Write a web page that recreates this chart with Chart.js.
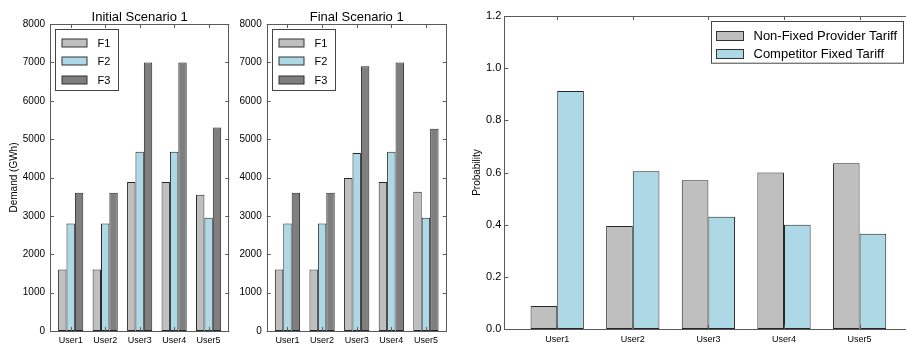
<!DOCTYPE html>
<html>
<head>
<meta charset="utf-8">
<script src="https://cdn.jsdelivr.net/npm/chart.js@4.4.1/dist/chart.umd.min.js"></script>
<style>
  html, body { margin: 0; padding: 0; background: #fff; overflow: hidden; }
  #wrap { position: relative; width: 906px; height: 344px; overflow: hidden; }
  .panel { position: absolute; top: 0; }
</style>
</head>
<body>
<div id="wrap">
  <div class="panel" style="left:0px"><canvas id="initialChart" width="232" height="344"></canvas></div>
  <div class="panel" style="left:232px"><canvas id="finalChart" width="218" height="344"></canvas></div>
  <div class="panel" style="left:460px"><canvas id="probChart" width="460" height="344"></canvas></div>
</div>
<script>
// Data
const users = ['User1', 'User2', 'User3', 'User4', 'User5'];
const bands = ['F1', 'F2', 'F3'];

const initialF1 = [1600, 1600, 3880, 3880, 3550];
const initialF2 = [2800, 2800, 4670, 4670, 2950];
const initialF3 = [3600, 3600, 7000, 7000, 5300];

const finalF1 = [1600, 1600, 3990, 3880, 3630];
const finalF2 = [2800, 2800, 4640, 4670, 2950];
const finalF3 = [3600, 3600, 6900, 7000, 5270];

const tariffLabels = ['Non-Fixed Provider Tariff', 'Competitor Fixed Tariff'];
const nonFixedProb = [0.088, 0.395, 0.57, 0.60, 0.635];
const competitorProb = [0.912, 0.605, 0.43, 0.40, 0.365];

const demandTicks = [0, 1000, 2000, 3000, 4000, 5000, 6000, 7000, 8000];

const FONT = 'Liberation Sans, Arial, Helvetica, sans-serif';
const barColors = ['#bfbfbf', '#add8e6', '#7f7f7f'];
const edge = '#262626';

// put each value at position 1..5 on a linear x axis
function toPoints(values) {
    return values.map((v, i) => ({ x: i + 1, y: v }));
}

// matlab-like box with inward ticks, plus a title centred on the plot
const boxAxes = {
    id: 'boxAxes',
    afterDatasetsDraw(chart, args, o) {
        const { ctx, chartArea: a, scales } = chart;
        const x = scales.x, y = scales.y;
        ctx.save();
        ctx.strokeStyle = '#5a5a5a';
        ctx.lineWidth = 1;
        ctx.beginPath();
        y.ticks.forEach(t => {
            const py = Math.round(y.getPixelForValue(t.value)) + 0.5;
            ctx.moveTo(a.left, py); ctx.lineTo(a.left + 4, py);
            ctx.moveTo(a.right, py); ctx.lineTo(a.right - 4, py);
        });
        x.ticks.forEach(t => {
            const px = Math.round(x.getPixelForValue(t.value)) + 0.5;
            ctx.moveTo(px, a.bottom); ctx.lineTo(px, a.bottom - 4);
            ctx.moveTo(px, a.top); ctx.lineTo(px, a.top + 4);
        });
        ctx.stroke();
        ctx.strokeRect(Math.round(a.left) + 0.5, Math.round(a.top) + 0.5,
            Math.round(a.right - a.left) - 1, Math.round(a.bottom - a.top));
        if (o && o.title) {
            ctx.fillStyle = '#000';
            ctx.font = '13px ' + FONT;
            ctx.textAlign = 'center';
            ctx.textBaseline = 'alphabetic';
            ctx.fillText(o.title, (a.left + a.right) / 2, a.top - 3);
        }
        ctx.restore();
    }
};

// legend drawn inside the plot with a frame
const boxLegend = {
    id: 'boxLegend',
    afterDraw(chart, args, o) {
        const { ctx, chartArea: a } = chart;
        const left = Math.round(a.left + o.dx) + 0.5;
        const top = Math.round(a.top + o.dy) + 0.5;
        ctx.save();
        ctx.fillStyle = '#fff';
        ctx.fillRect(left, top, o.w, o.h);
        ctx.strokeStyle = '#444';
        ctx.lineWidth = 1;
        ctx.strokeRect(left, top, o.w, o.h);
        ctx.font = o.fontSize + 'px ' + FONT;
        ctx.textBaseline = 'middle';
        chart.data.datasets.forEach((ds, i) => {
            const cy = Math.round(top + o.first + i * o.row);
            ctx.fillStyle = ds.backgroundColor;
            ctx.fillRect(left + o.sx, cy - o.sh / 2, o.sw, o.sh);
            ctx.strokeStyle = '#333';
            ctx.strokeRect(left + o.sx, cy - o.sh / 2, o.sw, o.sh);
            ctx.fillStyle = '#000';
            ctx.fillText(ds.label, left + o.tx, cy + 0.5);
        });
        ctx.restore();
    }
};

function userAxis(min, max, height, pad) {
    return {
        type: 'linear',
        min: min,
        max: max,
        offset: false,
        grid: { display: false, drawTicks: false, offset: false },
        border: { display: false },
        afterBuildTicks: s => { s.ticks = users.map((u, i) => ({ value: i + 1 })); },
        afterFit: s => { s.height = height; },
        ticks: {
            padding: pad,
            color: '#000',
            font: { family: FONT, size: 9 },
            maxRotation: 0,
            autoSkip: false,
            callback: v => users[v - 1]
        }
    };
}

function demandChart(id, title, series, yWidth, padRight) {
    const ctx = document.getElementById(id);
    return new Chart(ctx, {
        type: 'bar',
        data: {
            datasets: series.map((vals, i) => ({
                label: bands[i],
                data: toPoints(vals),
                backgroundColor: barColors[i],
                borderColor: edge,
                borderWidth: 1,
                borderSkipped: false,
                categoryPercentage: 0.73,
                barPercentage: 1
            }))
        },
        options: {
            responsive: false,
            animation: false,
            layout: { padding: { top: 24, right: padRight, bottom: 0, left: 0 } },
            plugins: {
                legend: { display: false },
                tooltip: { enabled: false },
                boxAxes: { title: title },
                boxLegend: { dx: 5, dy: 5, w: 63, h: 61, sx: 6.5, sw: 25, sh: 8, first: 13.4, row: 18.3, tx: 42, fontSize: 11 }
            },
            scales: {
                x: userAxis(0.4, 5.6, 13, 4),
                y: {
                    min: 0,
                    max: 8000,
                    grid: { display: false, drawTicks: false },
                    border: { display: false },
                    afterBuildTicks: s => { s.ticks = demandTicks.map(v => ({ value: v })); },
                    afterFit: s => { s.width = yWidth; },
                    title: {
                        display: id === 'initialChart',
                        text: 'Demand (GWh)',
                        color: '#000',
                        font: { family: FONT, size: 10 },
                        padding: { top: 8, bottom: 0 }
                    },
                    ticks: {
                        padding: 5,
                        color: '#000',
                        font: { family: FONT, size: 10 },
                        callback: v => String(v)
                    }
                }
            }
        },
        plugins: [boxAxes, boxLegend]
    });
}

demandChart('initialChart', 'Initial Scenario 1', [initialF1, initialF2, initialF3], 50, 2.7);
demandChart('finalChart', 'Final Scenario 1', [finalF1, finalF2, finalF3], 34.7, 3.3);

// Probability chart
new Chart(document.getElementById('probChart'), {
    type: 'bar',
    data: {
        datasets: [nonFixedProb, competitorProb].map((vals, i) => ({
            label: tariffLabels[i],
            data: toPoints(vals),
            backgroundColor: barColors[i],
            borderColor: edge,
            borderWidth: 1,
            borderSkipped: false,
            categoryPercentage: 0.705,
            barPercentage: 1
        }))
    },
    options: {
        responsive: false,
        animation: false,
        layout: { padding: { top: 16, right: 7.5, bottom: 0, left: 0 } },
        plugins: {
            legend: { display: false },
            tooltip: { enabled: false },
            boxLegend: { dx: 206.4, dy: 5, w: 192, h: 41.7, sx: 5, sw: 27, sh: 9, first: 14, row: 18.5, tx: 42, fontSize: 13 }
        },
        scales: {
            x: userAxis(0.3, 5.7, 15, 5),
            y: {
                min: 0,
                max: 1.2,
                grid: { display: false, drawTicks: false },
                border: { display: false },
                ticks: {
                    stepSize: 0.2,
                    padding: 3,
                    color: '#000',
                    font: { family: FONT, size: 11 },
                    callback: v => v.toFixed(1)
                },
                afterFit: s => { s.width = 44.3; },
                title: {
                    display: true,
                    text: 'Probability',
                    color: '#000',
                    font: { family: FONT, size: 10 },
                    padding: { top: 11, bottom: 0 }
                }
            }
        }
    },
    plugins: [boxAxes, boxLegend]
});
</script>
</body>
</html>
